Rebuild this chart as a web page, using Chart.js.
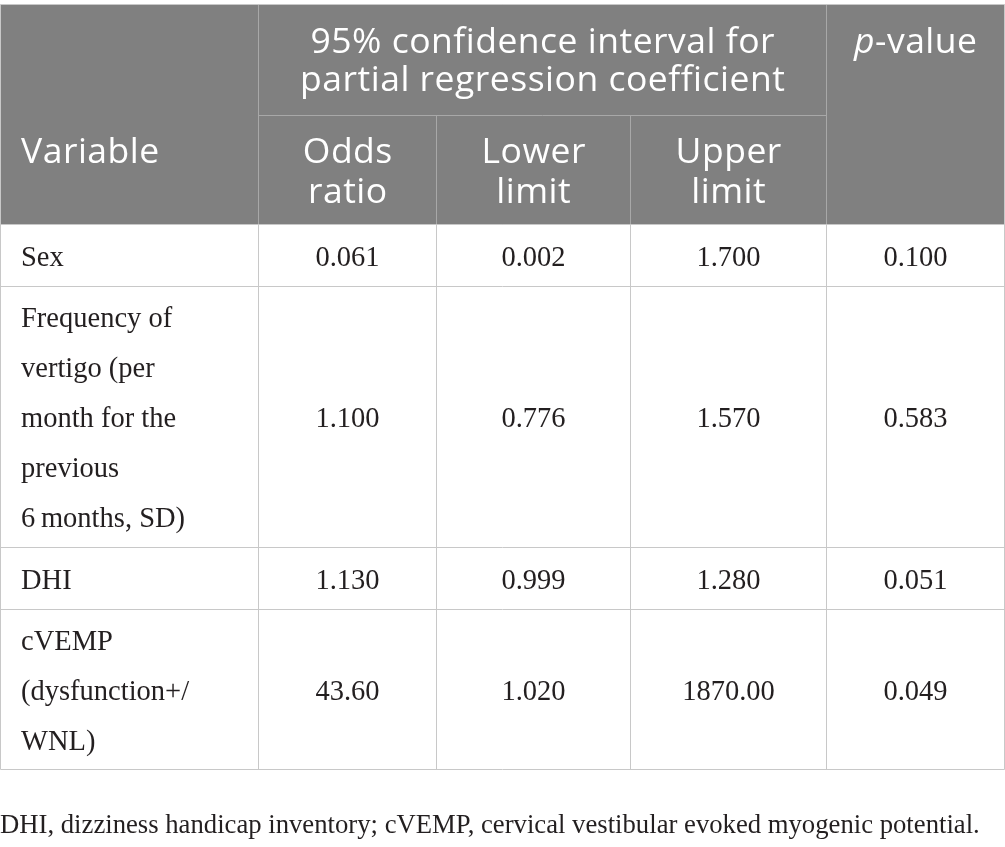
<!DOCTYPE html>
<html>
<head>
<meta charset="utf-8">
<script src="https://cdn.jsdelivr.net/npm/chart.js@4.4.1/dist/chart.umd.min.js"></script>
<style>
  html, body { margin: 0; padding: 0; background: #fff; }
  #wrap { width: 1005px; height: 847px; position: relative; }
</style>
</head>
<body>
<div id="wrap"><canvas id="myChart"></canvas></div>
<script>
// table content
const variables = [
  ['Sex'],
  ['Frequency of', 'vertigo (per', 'month for the', 'previous', '6\u2009months, SD)'],
  ['DHI'],
  ['cVEMP', '(dysfunction+/', 'WNL)']
];
const oddsRatio = ['0.061', '1.100', '1.130', '43.60'];
const lowerLimit = ['0.002', '0.776', '0.999', '1.020'];
const upperLimit = ['1.700', '1.570', '1.280', '1870.00'];
const pValues = ['0.100', '0.583', '0.051', '0.049'];

const groupHeader = ['95% confidence interval for', 'partial regression coefficient'];
const colHeaders = [['Variable'], ['Odds', 'ratio'], ['Lower', 'limit'], ['Upper', 'limit']];
const pHeader = ['p', '-value'];
const footnote = 'DHI, dizziness handicap inventory; cVEMP, cervical vestibular evoked myogenic potential.';

// layout, in page units (the scales map them 1:1 onto the canvas)
const colEdges = [0.5, 258.5, 436.5, 630.5, 826.5, 1004.5];
const headTop = 4.5, headMid = 115.5, headBottom = 224.5;
const rowEdges = [224.5, 286.5, 547.5, 609.5, 769.5];

const headFont = '35.5px "Open Sans"';
const headSpacing = 0.5;
const bodyFont = '28.5px "Liberation Serif"';
const noteFont = '26.7px "Liberation Serif"';

const tablePlugin = {
  id: 'table',
  afterDraw(chart) {
    const c = chart.ctx;
    const xs = chart.scales.x, ys = chart.scales.y;
    const X = v => xs.getPixelForValue(v);
    const Y = v => ys.getPixelForValue(v);
    const cx = i => X((colEdges[i] + colEdges[i + 1]) / 2);

    function line(x1, y1, x2, y2, color) {
      c.strokeStyle = color;
      c.lineWidth = 1;
      c.beginPath();
      c.moveTo(X(x1), Y(y1));
      c.lineTo(X(x2), Y(y2));
      c.stroke();
    }
    // centred text that ignores the trailing letter spacing
    function centered(t, x, y) {
      const w = c.measureText(t).width - headSpacing;
      c.textAlign = 'left';
      c.fillText(t, x - w / 2, y);
    }

    c.save();
    // header background
    c.fillStyle = '#808080';
    c.fillRect(X(colEdges[0]), Y(headTop), X(colEdges[5]) - X(colEdges[0]), Y(headBottom) - Y(headTop));

    // header grid
    const hc = '#a8a8a8';
    line(colEdges[1], headTop, colEdges[1], headBottom, hc);
    line(colEdges[4], headTop, colEdges[4], headBottom, hc);
    line(colEdges[2], headMid, colEdges[2], headBottom, hc);
    line(colEdges[3], headMid, colEdges[3], headBottom, hc);
    line(colEdges[1], headMid, colEdges[4], headMid, hc);

    // body grid
    const bc = '#c8c8c8';
    line(colEdges[0], headTop, colEdges[5], headTop, bc);
    line(colEdges[0], headTop, colEdges[0], rowEdges[4], bc);
    line(colEdges[5], headTop, colEdges[5], rowEdges[4], bc);
    rowEdges.forEach(r => line(colEdges[0], r, colEdges[5], r, bc));
    for (let i = 1; i < 5; i++) line(colEdges[i], rowEdges[0], colEdges[i], rowEdges[4], bc);

    // header text
    c.fillStyle = '#ffffff';
    c.font = headFont;
    c.letterSpacing = headSpacing + 'px';
    c.textBaseline = 'alphabetic';
    const gx = X((colEdges[1] + colEdges[4]) / 2);
    groupHeader.forEach((t, k) => centered(t, gx, Y(53 + k * 38)));
    colHeaders.forEach((lines, i) => {
      lines.forEach((t, k) => {
        if (i === 0) {
          c.textAlign = 'left';
          c.fillText(t, X(21), Y(163 + k * 40));
        } else {
          centered(t, cx(i), Y(163 + k * 40));
        }
      });
    });
    // p-value with italic p
    c.textAlign = 'left';
    c.font = 'italic ' + headFont;
    const wp = c.measureText(pHeader[0]).width;
    c.font = headFont;
    const wr = c.measureText(pHeader[1]).width - headSpacing;
    const px0 = cx(4) - (wp + wr) / 2;
    c.font = 'italic ' + headFont;
    c.fillText(pHeader[0], px0, Y(53));
    c.font = headFont;
    c.fillText(pHeader[1], px0 + wp, Y(53));
    c.letterSpacing = '0px';

    // body text
    c.fillStyle = '#231f20';
    c.font = bodyFont;
    const cols = [oddsRatio, lowerLimit, upperLimit, pValues];
    variables.forEach((lines, r) => {
      const mid = (rowEdges[r] + rowEdges[r + 1]) / 2;
      const first = mid + 10 - (lines.length - 1) * 25;
      c.textAlign = 'left';
      lines.forEach((t, k) => c.fillText(t, X(21), Y(first + k * 50)));
      c.textAlign = 'center';
      cols.forEach((arr, j) => c.fillText(arr[r], cx(j + 1), Y(mid + 10)));
    });

    // footnote
    c.textAlign = 'left';
    c.font = noteFont;
    c.fillText(footnote, X(0), Y(833));
    c.restore();
  }
};

new Chart(document.getElementById('myChart'), {
  type: 'scatter',
  data: { datasets: [{ data: [], pointRadius: 0 }] },
  options: {
    responsive: true,
    maintainAspectRatio: false,
    animation: false,
    events: [],
    layout: { padding: 0 },
    plugins: { legend: { display: false }, tooltip: { enabled: false } },
    scales: {
      x: { type: 'linear', min: 0, max: 1005, display: false },
      y: { type: 'linear', min: 0, max: 847, reverse: true, display: false }
    }
  },
  plugins: [tablePlugin]
});
</script>
</body>
</html>
